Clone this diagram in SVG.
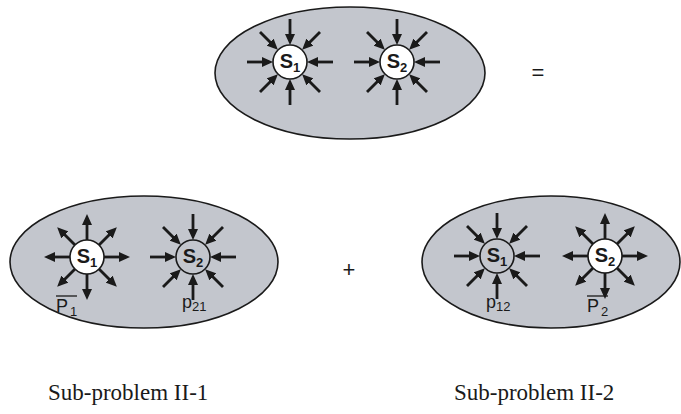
<svg xmlns="http://www.w3.org/2000/svg" xmlns:xlink="http://www.w3.org/1999/xlink" width="681" height="414" viewBox="0 0 681 414">
<style>
.reg{fill:#c3c6cd;stroke:#1a1a1a;stroke-width:1.6}
.src{fill:#ffffff;stroke:#1a1a1a;stroke-width:1.6}
.snk{fill:#c3c6cd;stroke:#1a1a1a;stroke-width:1.6}
.arr{stroke:#1a1a1a;stroke-width:2.8;fill:none;marker-end:url(#head)}
.lbl{font-family:"Liberation Sans",Arial,sans-serif;font-weight:bold;font-size:20px;fill:#1a1a1a}
.sub{font-size:13px}
.plab{font-family:"Liberation Sans",Arial,sans-serif;font-size:18px;fill:#1a1a1a}
.psub{font-size:13px}
.cap{font-family:"Liberation Serif","Times New Roman",serif;font-size:23px;fill:#1a1a1a}
.op{font-family:"Liberation Sans",Arial,sans-serif;font-size:22px;fill:#1a1a1a}
</style>
<defs>
<marker id="head" markerUnits="userSpaceOnUse" markerWidth="11" markerHeight="10" refX="7" refY="5" orient="auto">
<path d="M0,0 L11,5 L0,10 z" fill="#1a1a1a"/>
</marker>
<g id="arrIn">
<line class="arr" x1="-43" y1="0" x2="-21" y2="0"/>
<line class="arr" x1="43" y1="0" x2="21" y2="0"/>
<line class="arr" x1="0" y1="-43" x2="0" y2="-21"/>
<line class="arr" x1="0" y1="43" x2="0" y2="21"/>
<line class="arr" x1="-30" y1="-30" x2="-15" y2="-15"/>
<line class="arr" x1="30" y1="-30" x2="15" y2="-15"/>
<line class="arr" x1="-30" y1="30" x2="-15" y2="15"/>
<line class="arr" x1="30" y1="30" x2="15" y2="15"/>
</g>
<g id="arrOut">
<line class="arr" x1="-17" y1="0" x2="-39" y2="0"/>
<line class="arr" x1="17" y1="0" x2="39" y2="0"/>
<line class="arr" x1="0" y1="-17" x2="0" y2="-39"/>
<line class="arr" x1="0" y1="17" x2="0" y2="39"/>
<line class="arr" x1="-12" y1="-12" x2="-27" y2="-27"/>
<line class="arr" x1="12" y1="-12" x2="27" y2="-27"/>
<line class="arr" x1="-12" y1="12" x2="-27" y2="27"/>
<line class="arr" x1="12" y1="12" x2="27" y2="27"/>
</g>
</defs>

<g id="regions">
<ellipse id="region-top" class="reg" cx="350" cy="73" rx="135" ry="66"/>
<ellipse id="region-sub1" class="reg" cx="144" cy="262" rx="134" ry="66"/>
<ellipse id="region-sub2" class="reg" cx="551" cy="262" rx="129" ry="66"/>
</g>

<g id="connectors">
<use xlink:href="#arrIn" href="#arrIn" transform="translate(290,62)"/>
<use xlink:href="#arrIn" href="#arrIn" transform="translate(397,62)"/>
<use xlink:href="#arrOut" href="#arrOut" transform="translate(87,257)"/>
<use xlink:href="#arrIn" href="#arrIn" transform="translate(193,257)"/>
<use xlink:href="#arrIn" href="#arrIn" transform="translate(497,256)"/>
<use xlink:href="#arrOut" href="#arrOut" transform="translate(605,256)"/>
</g>

<g id="top-s1">
<circle class="src" cx="290" cy="62" r="17"/>
<text class="lbl" x="290" y="68" text-anchor="middle">S<tspan class="sub" dy="4">1</tspan></text>
</g>
<g id="top-s2">
<circle class="src" cx="397" cy="62" r="17"/>
<text class="lbl" x="397" y="68" text-anchor="middle">S<tspan class="sub" dy="4">2</tspan></text>
</g>

<g id="sub1-s1">
<circle class="src" cx="87" cy="257" r="17"/>
<text class="lbl" x="87" y="263" text-anchor="middle">S<tspan class="sub" dy="4">1</tspan></text>
</g>
<g id="sub1-s2">
<circle class="snk" cx="193" cy="257" r="17"/>
<text class="lbl" x="193" y="263" text-anchor="middle">S<tspan class="sub" dy="4">2</tspan></text>
</g>
<g id="sub2-s1">
<circle class="snk" cx="497" cy="256" r="17"/>
<text class="lbl" x="497" y="262" text-anchor="middle">S<tspan class="sub" dy="4">1</tspan></text>
</g>
<g id="sub2-s2">
<circle class="src" cx="605" cy="256" r="17"/>
<text class="lbl" x="605" y="262" text-anchor="middle">S<tspan class="sub" dy="4">2</tspan></text>
</g>

<g id="labels">
<text class="plab" x="56" y="312">P<tspan class="psub" dy="4" dx="2">1</tspan></text>
<line x1="56" y1="296" x2="77" y2="296" stroke="#1a1a1a" stroke-width="1.3"/>
<text class="plab" x="182" y="308">p<tspan class="psub" dy="3">21</tspan></text>
<text class="plab" x="486" y="308">p<tspan class="psub" dy="3">12</tspan></text>
<text class="plab" x="587" y="312">P<tspan class="psub" dy="4" dx="2">2</tspan></text>
<line x1="587" y1="296" x2="608" y2="296" stroke="#1a1a1a" stroke-width="1.3"/>
<text class="op" x="538" y="80" text-anchor="middle">=</text>
<text class="op" x="349" y="277" text-anchor="middle">+</text>
<text class="cap" x="48" y="400">Sub-problem II-1</text>
<text class="cap" x="454" y="400">Sub-problem II-2</text>
</g>
</svg>
